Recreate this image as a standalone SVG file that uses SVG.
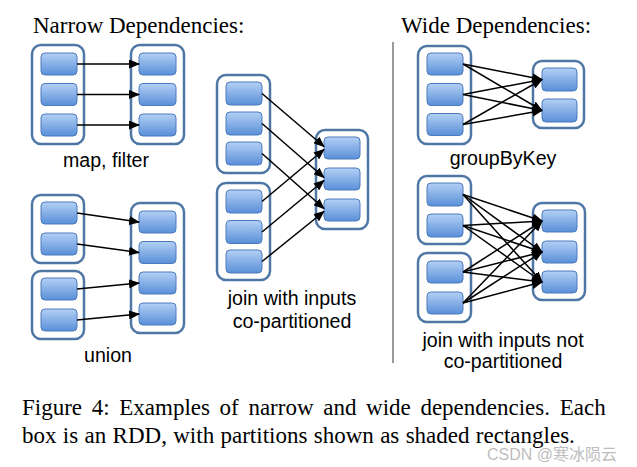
<svg xmlns="http://www.w3.org/2000/svg" width="637" height="467" viewBox="0 0 637 467">
<style>
.bg{fill:#ffffff}
.rdd{fill:#ffffff;stroke:#4f77a5;stroke-width:2.5}
.part{fill:url(#pg);stroke:#4c7bbd;stroke-width:1}
.edge{stroke:#000;stroke-width:1.5;fill:none;marker-end:url(#ah)}
.title{font-family:"Liberation Serif","Times New Roman",serif;font-size:23px;fill:#000}
.lbl{font-family:"Liberation Sans",Arial,sans-serif;font-size:19.6px;fill:#000;text-anchor:middle}
.cap{font-family:"Liberation Serif","Times New Roman",serif;font-size:23px;fill:#000}
.wm{font-family:"Liberation Sans","Noto Sans CJK SC",sans-serif;font-size:16px;fill:#bdbdbd}
</style>
<defs>
<linearGradient id="pg" x1="0" y1="0" x2="0" y2="1">
<stop offset="0" stop-color="#b3d0f5"/>
<stop offset="1" stop-color="#5a8fd8"/>
</linearGradient>
<marker id="ah" markerUnits="userSpaceOnUse" markerWidth="11" markerHeight="9" refX="10" refY="4.5" orient="auto">
<path d="M0,0 L11,4.5 L0,9 Z" fill="#000"/>
</marker>
</defs>
<rect class="bg" x="0" y="0" width="637" height="467"/>

<g id="titles">
<text class="title" x="33" y="33">Narrow Dependencies:</text>
<text class="title" x="401" y="33">Wide Dependencies:</text>
</g>
<line id="divider" x1="393" y1="42" x2="393" y2="363" stroke="#9a9a9a" stroke-width="2"/>

<g id="map-in">
<rect class="rdd" x="32" y="45" width="52" height="99" rx="9"/>
<rect class="part" x="41" y="53" width="36" height="22" rx="4"/>
<rect class="part" x="41" y="83.5" width="36" height="22" rx="4"/>
<rect class="part" x="41" y="114" width="36" height="22" rx="4"/>
</g>
<g id="map-out">
<rect class="rdd" x="131" y="45" width="53" height="99" rx="9"/>
<rect class="part" x="139" y="53" width="37" height="22" rx="4"/>
<rect class="part" x="139" y="83.5" width="37" height="22" rx="4"/>
<rect class="part" x="139" y="114" width="37" height="22" rx="4"/>
</g>
<text class="lbl" x="106" y="167">map, filter</text>

<g id="union-in1">
<rect class="rdd" x="32" y="195" width="52" height="68" rx="9"/>
<rect class="part" x="41" y="202" width="36" height="22" rx="4"/>
<rect class="part" x="41" y="233" width="36" height="22" rx="4"/>
</g>
<g id="union-in2">
<rect class="rdd" x="32" y="271" width="52" height="68" rx="9"/>
<rect class="part" x="41" y="278" width="36" height="22" rx="4"/>
<rect class="part" x="41" y="309" width="36" height="22" rx="4"/>
</g>
<g id="union-out">
<rect class="rdd" x="131" y="203" width="53" height="130" rx="9"/>
<rect class="part" x="139" y="211" width="37" height="22" rx="4"/>
<rect class="part" x="139" y="241.5" width="37" height="22" rx="4"/>
<rect class="part" x="139" y="272" width="37" height="22" rx="4"/>
<rect class="part" x="139" y="303" width="37" height="22" rx="4"/>
</g>
<text class="lbl" x="108" y="362">union</text>

<g id="join-in1">
<rect class="rdd" x="217" y="75" width="53" height="98" rx="9"/>
<rect class="part" x="226" y="82" width="36" height="23" rx="4"/>
<rect class="part" x="226" y="112" width="36" height="23" rx="4"/>
<rect class="part" x="226" y="142" width="36" height="23" rx="4"/>
</g>
<g id="join-in2">
<rect class="rdd" x="217" y="183" width="53" height="97" rx="9"/>
<rect class="part" x="226" y="190" width="36" height="23" rx="4"/>
<rect class="part" x="226" y="220.5" width="36" height="23" rx="4"/>
<rect class="part" x="226" y="250" width="36" height="23" rx="4"/>
</g>
<g id="join-out">
<rect class="rdd" x="316" y="130" width="52" height="99" rx="9"/>
<rect class="part" x="324" y="137" width="36" height="22" rx="4"/>
<rect class="part" x="324" y="168" width="36" height="22" rx="4"/>
<rect class="part" x="324" y="199" width="36" height="22" rx="4"/>
</g>
<text class="lbl" x="292" y="305">join with inputs</text>
<text class="lbl" x="292" y="328">co-partitioned</text>

<g id="gbk-in">
<rect class="rdd" x="418" y="46" width="53" height="98" rx="9"/>
<rect class="part" x="427" y="53" width="36" height="22" rx="4"/>
<rect class="part" x="427" y="83.5" width="36" height="22" rx="4"/>
<rect class="part" x="427" y="113.5" width="36" height="22" rx="4"/>
</g>
<g id="gbk-out">
<rect class="rdd" x="533" y="61" width="51" height="67" rx="9"/>
<rect class="part" x="542" y="68" width="35" height="23" rx="4"/>
<rect class="part" x="542" y="99" width="35" height="23" rx="4"/>
</g>
<text class="lbl" x="503" y="165">groupByKey</text>

<g id="wjoin-in1">
<rect class="rdd" x="418" y="176" width="53" height="68" rx="9"/>
<rect class="part" x="427" y="183" width="36" height="23" rx="4"/>
<rect class="part" x="427" y="214" width="36" height="23" rx="4"/>
</g>
<g id="wjoin-in2">
<rect class="rdd" x="418" y="253" width="53" height="69" rx="9"/>
<rect class="part" x="427" y="261" width="36" height="22" rx="4"/>
<rect class="part" x="427" y="292" width="36" height="22" rx="4"/>
</g>
<g id="wjoin-out">
<rect class="rdd" x="533" y="203" width="52" height="97" rx="9"/>
<rect class="part" x="542" y="210" width="35" height="22" rx="4"/>
<rect class="part" x="542" y="241" width="35" height="22" rx="4"/>
<rect class="part" x="542" y="271" width="35" height="22" rx="4"/>
</g>
<text class="lbl" x="503" y="347">join with inputs not</text>
<text class="lbl" x="503" y="368">co-partitioned</text>

<g id="connectors">
<line class="edge" x1="77" y1="64" x2="139" y2="64"/>
<line class="edge" x1="77" y1="94.5" x2="139" y2="94.5"/>
<line class="edge" x1="77" y1="125" x2="139" y2="125"/>

<line class="edge" x1="77" y1="213" x2="139" y2="222"/>
<line class="edge" x1="77" y1="244" x2="139" y2="252.5"/>
<line class="edge" x1="77" y1="289" x2="139" y2="283"/>
<line class="edge" x1="77" y1="320" x2="139" y2="314"/>

<line class="edge" x1="262" y1="93.5" x2="324" y2="146.5"/>
<line class="edge" x1="262" y1="123.5" x2="324" y2="177.5"/>
<line class="edge" x1="262" y1="153.5" x2="324" y2="208.5"/>
<line class="edge" x1="262" y1="201.5" x2="324" y2="149.5"/>
<line class="edge" x1="262" y1="232" x2="324" y2="180.5"/>
<line class="edge" x1="262" y1="261.5" x2="324" y2="211.5"/>

<line class="edge" x1="463" y1="64" x2="542" y2="79.5"/>
<line class="edge" x1="463" y1="64" x2="542" y2="110.5"/>
<line class="edge" x1="463" y1="94.5" x2="542" y2="79.5"/>
<line class="edge" x1="463" y1="94.5" x2="542" y2="110.5"/>
<line class="edge" x1="463" y1="124.5" x2="542" y2="79.5"/>
<line class="edge" x1="463" y1="124.5" x2="542" y2="110.5"/>

<line class="edge" x1="463" y1="194.5" x2="542" y2="221"/>
<line class="edge" x1="463" y1="194.5" x2="542" y2="252"/>
<line class="edge" x1="463" y1="194.5" x2="542" y2="282"/>
<line class="edge" x1="463" y1="225.5" x2="542" y2="221"/>
<line class="edge" x1="463" y1="225.5" x2="542" y2="252"/>
<line class="edge" x1="463" y1="225.5" x2="542" y2="282"/>
<line class="edge" x1="463" y1="272" x2="542" y2="221"/>
<line class="edge" x1="463" y1="272" x2="542" y2="252"/>
<line class="edge" x1="463" y1="272" x2="542" y2="282"/>
<line class="edge" x1="463" y1="303" x2="542" y2="221"/>
<line class="edge" x1="463" y1="303" x2="542" y2="252"/>
<line class="edge" x1="463" y1="303" x2="542" y2="282"/>
</g>

<g id="caption">
<text class="cap" x="22" y="415" word-spacing="3.9">Figure 4: Examples of narrow and wide dependencies. Each</text>
<text class="cap" x="22" y="443" word-spacing="0.6">box is an RDD, with partitions shown as shaded rectangles.</text>
</g>
<text class="wm" x="487" y="460">CSDN @寒冰陨云</text>
</svg>
